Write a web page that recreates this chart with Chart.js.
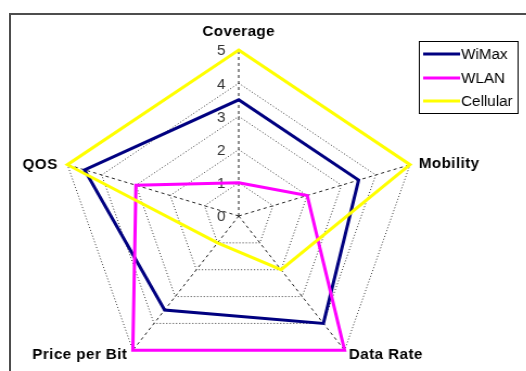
<!DOCTYPE html>
<html>
<head>
<meta charset="utf-8">
<script src="https://cdn.jsdelivr.net/npm/chart.js@4.4.1/dist/chart.umd.min.js"></script>
<style>
  html, body { margin: 0; padding: 0; background: #fff; }
  #frame { position: relative; width: 526px; height: 371px; overflow: hidden; background: #fff; }
  #edge {
    position: absolute; left: 9px; top: 13px; right: -10px; bottom: -10px;
    border-left: 2px solid #4d4d4d; border-top: 2px solid #4d4d4d;
  }
  /* the plot is drawn on a narrower canvas and widened to the frame */
  #radar {
    position: absolute; left: 0; top: 0; width: 485px; height: 400px;
    transform: scaleX(1.085); transform-origin: 0 0;
  }
</style>
</head>
<body>
<div id="frame">
  <div id="edge"></div>
  <canvas id="radar" width="485" height="400"></canvas>
</div>
<script>
// Axes of the radar, clockwise from the top
const categories = ['Coverage', 'Mobility', 'Data Rate', 'Price per Bit', 'QOS'];

// Ratings per technology (0-5)
const wimaxValues    = [3.5, 3.5, 4, 3.5, 4.5];
const wlanValues     = [1, 2, 5, 5, 3];
const cellularValues = [5, 5, 2, 1, 5];

const seriesNames  = ['WiMax', 'WLAN', 'Cellular'];
const seriesColors = ['#000080', '#FF00FF', '#FFFF00'];

const tickLabels = ['0', '1', '2', '3', '4', '5'];
const scaleMax = 5;

const FONT = '"Liberation Sans", Arial, sans-serif';

// Value labels to the left of the vertical spoke
const tickLabelPlugin = {
  id: 'tickLabelPlugin',
  beforeDatasetsDraw(chart) {
    const s = chart.scales.r;
    const ctx = chart.ctx;
    ctx.save();
    ctx.font = '14px ' + FONT;
    ctx.fillStyle = '#333';
    ctx.textAlign = 'center';
    ctx.textBaseline = 'middle';
    tickLabels.forEach((t) => {
      const d = s.getDistanceFromCenterForValue(Number(t));
      ctx.fillText(t, s.xCenter - 16, s.yCenter - d + 1.5);
    });
    ctx.restore();
  }
};

// Category names placed around the outer ring
const axisNamePlugin = {
  id: 'axisNamePlugin',
  afterDraw(chart) {
    const s = chart.scales.r;
    const ctx = chart.ctx;
    const r = s.getDistanceFromCenterForValue(scaleMax);
    // [dx, dy, align] relative to each outer vertex
    const place = [
      [0, -18, 'center'],
      [8, -1, 'left'],
      [4, 5, 'left'],
      [-5, 5, 'right'],
      [-9, 0, 'right']
    ];
    ctx.save();
    ctx.font = 'bold 14px ' + FONT;
    ctx.letterSpacing = '0.4px';
    ctx.fillStyle = '#000';
    ctx.textBaseline = 'middle';
    categories.forEach((name, i) => {
      const p = s.getPointPosition(i, r);
      const [dx, dy, align] = place[i];
      ctx.textAlign = align;
      ctx.fillText(name, p.x + dx, p.y + dy);
    });
    ctx.restore();
  }
};

// Boxed legend at the upper right
const boxLegendPlugin = {
  id: 'boxLegendPlugin',
  afterDraw(chart) {
    const ctx = chart.ctx;
    const x0 = 386.5, y0 = 41.5, w = 91, h = 72;
    const rows = [54, 78, 101];
    ctx.save();
    ctx.fillStyle = '#fff';
    ctx.fillRect(x0, y0, w, h);
    ctx.strokeStyle = '#000';
    ctx.lineWidth = 1;
    ctx.strokeRect(x0, y0, w, h);
    ctx.font = '14px ' + FONT;
    ctx.textAlign = 'left';
    ctx.textBaseline = 'middle';
    chart.data.datasets.forEach((ds, i) => {
      const y = rows[i];
      ctx.strokeStyle = ds.borderColor;
      ctx.lineWidth = 3;
      ctx.beginPath();
      ctx.moveTo(390, y);
      ctx.lineTo(424, y);
      ctx.stroke();
      ctx.fillStyle = '#000';
      ctx.fillText(ds.label, 425, y + 1);
    });
    ctx.restore();
  }
};

const seriesValues = [wimaxValues, wlanValues, cellularValues];

new Chart(document.getElementById('radar'), {
  type: 'radar',
  data: {
    labels: categories,
    datasets: seriesNames.map((name, i) => ({
      label: name,
      data: seriesValues[i],
      borderColor: seriesColors[i],
      backgroundColor: 'rgba(0,0,0,0)',
      borderWidth: 3,
      pointRadius: 0,
      pointHoverRadius: 0,
      fill: false,
      tension: 0,
      clip: false,
      order: seriesNames.length - i
    }))
  },
  options: {
    responsive: false,
    animation: false,
    events: [],
    layout: { padding: { left: 54, right: 99, top: 50, bottom: 18 } },
    plugins: {
      legend: { display: false },
      tooltip: { enabled: false },
      title: { display: false }
    },
    scales: {
      r: {
        min: 0,
        max: scaleMax,
        beginAtZero: true,
        ticks: { display: false, stepSize: 1 },
        pointLabels: { display: false },
        grid: { color: '#3a3a3a', lineWidth: 1, circular: false },
        border: { dash: [1, 2] },
        angleLines: { color: '#222', lineWidth: 1, borderDash: [3, 3] }
      }
    }
  },
  plugins: [tickLabelPlugin, axisNamePlugin, boxLegendPlugin]
});
</script>
</body>
</html>
